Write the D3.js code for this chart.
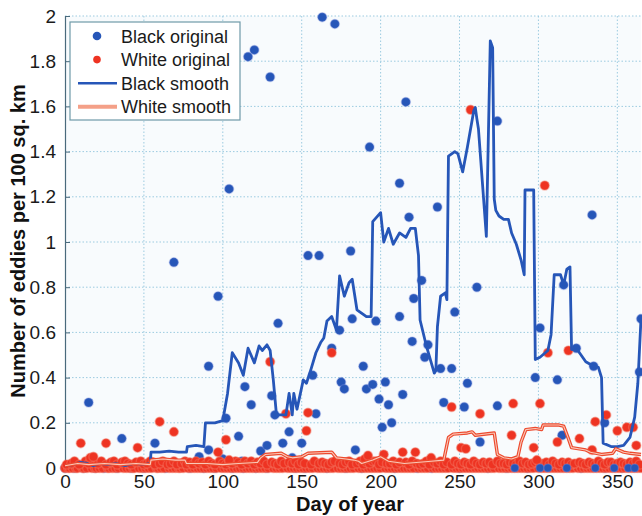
<!DOCTYPE html>
<html>
<head>
<meta charset="utf-8">
<script src="https://cdn.jsdelivr.net/npm/d3@7"></script>
<style>
  body { margin: 0; background: #fff; }
  svg { display: block; font-family: "Liberation Sans", Arial, sans-serif; }
</style>
</head>
<body>
<div id="chart"></div>
<script>
// Black original: [day, eddies per 100 sq. km]
const blackOriginal = [
  [15,0.29],[36,0.13],[57,0.11],[69,0.91],[85,0.05],[91,0.45],[91,0.08],[97,0.76],
  [100,0.04],[102,0.22],[104,1.235],[110,0.14],[112,0.03],[114,0.36],[116,1.82],[118,0.28],
  [120,1.85],[124,0.075],[128,0.10],[130,1.73],[131,0.32],[133,0.235],[135,0.64],[138,0.11],
  [142,0.16],[144,0.045],[150,0.11],[154,0.94],[157,0.41],[159,0.24],[161,0.94],[163,1.995],
  [169,0.53],[171,1.965],[174,0.61],[175,0.38],[177,0.35],[181,0.96],[182,0.66],[184,0.08],
  [189,0.45],[191,0.35],[193,1.42],[195,0.37],[197,0.65],[199,0.305],[201,0.18],[203,0.38],
  [205,0.28],[207,0.20],[212,0.67],[212,1.26],[214,0.325],[216,1.62],[218,1.11],[220,0.56],
  [221,0.75],[226,0.83],[228,0.49],[230,0.545],[236,1.155],[238,0.44],[240,0.29],[245,0.44],
  [247,0.69],[253,0.27],[255,0.375],[261,0.80],[263,0.115],[274,0.275],[274,1.535],[298,0.40],
  [301,0.62],[312,0.39],[315,0.145],[316,0.81],[324,0.53],[334,1.12],[335,0.45],[342,0.2],
  [364,0.425],[365,0.66]
];
// days with zero black eddies: hidden under the white band, except the late-year ones
const blackZeroDays = [0,6,12,19,25,33,42,50,64,79,88,95,106,113,121,128,146,152,166,178,188,
  209,223,232,250,268,280,293,327,342,353];
const blackZeroDaysTop = [285,301,306,318,336,348,357,361];

// White original
const whiteOriginal = [
  [10,0.11],[16,0.045],[18,0.05],[26,0.11],[46,0.09],[60,0.205],[69,0.16],[97,0.07],
  [102,0.125],[104,0.035],[130,0.47],[140,0.24],[153,0.165],[154,0.245],[169,0.51],[190,0.04],
  [192,0.055],[202,0.06],[214,0.07],[222,0.07],[232,0.045],[245,0.27],[251,0.09],[254,0.085],
  [257,1.585],[263,0.24],[283,0.145],[284,0.285],[297,0.09],[299,0.035],[301,0.285],[304,1.25],
  [306,0.51],[312,0.115],[319,0.52],[326,0.13],[334,0.08],[336,0.205],[343,0.235],[350,0.165],
  [356,0.18],[360,0.18],[362,0.10]
];
const whiteLow = [
  [1,0.015],[4,0.02],[6,0.03],[9,0.015],[13,0.03],[15,0.02],[18,0.025],[21,0.02],[23,0.03],
  [26,0.015],[29,0.025],[31,0.03],[33,0.015],[36,0.025],[38,0.03],[40,0.02],[42,0.015],[45,0.025],
  [48,0.03],[50,0.015],[52,0.02],[54,0.03],[56,0.025],[57,0.015],[60,0.02],[62,0.03],[65,0.015],
  [67,0.02],[69,0.03],[71,0.015],[74,0.02],[76,0.03],[77,0.015],[79,0.025],[81,0.015],[83,0.03],
  [85,0.02],[87,0.025],[89,0.015],[91,0.03],[93,0.02],[95,0.015],[98,0.03],[100,0.02],[102,0.015],
  [104,0.025],[106,0.02],[108,0.03],[110,0.025],[112,0.015],[114,0.03],[116,0.02],[118,0.03],
  [120,0.015],[122,0.025],[124,0.02],[126,0.03],[128,0.015],[131,0.025],[133,0.02],[135,0.015],
  [137,0.03],[139,0.02],[142,0.025],[144,0.02],[146,0.03],[148,0.015],[150,0.025],[152,0.02],
  [156,0.015],[158,0.03],[161,0.02],[163,0.025],[165,0.02],[167,0.015],[169,0.025],[171,0.03],
  [174,0.02],[176,0.015],[178,0.025],[180,0.03],[182,0.015],[185,0.02],[187,0.03],[189,0.015],
  [191,0.025],[193,0.02],[195,0.03],[197,0.03],[199,0.015],[201,0.025],[204,0.02],[206,0.02],
  [208,0.03],[210,0.015],[212,0.025],[216,0.025],[218,0.015],[220,0.03],[223,0.02],[225,0.015],
  [227,0.02],[229,0.03],[231,0.015],[234,0.025],[236,0.02],[238,0.03],[240,0.015],[242,0.025],
  [245,0.015],[247,0.03],[249,0.02],[251,0.015],[253,0.025],[255,0.02],[257,0.015],[259,0.03],
  [261,0.02],[263,0.015],[265,0.025],[267,0.02],[269,0.025],[271,0.015],[274,0.03],[276,0.02],
  [278,0.02],[280,0.015],[282,0.025],[284,0.02],[286,0.015],[288,0.03],[290,0.02],[292,0.025],
  [294,0.015],[296,0.02],[298,0.025],[301,0.015],[303,0.02],[305,0.025],[307,0.015],[309,0.03],
  [311,0.02],[313,0.015],[315,0.025],[317,0.02],[319,0.025],[321,0.015],[323,0.02],[326,0.025],
  [328,0.02],[330,0.015],[332,0.025],[334,0.02],[336,0.015],[338,0.03],[340,0.02],[342,0.015],
  [344,0.025],[346,0.025],[348,0.015],[350,0.02],[352,0.025],[354,0.02],[356,0.015],[358,0.025],
  [360,0.02],[362,0.03],[364,0.015]
];
const whiteZeroDays = [0,2,3,5,7,8,11,12,14,17,19,20,22,24,27,28,30,32,34,37,39,41,43,44,47,49,
  51,53,55,58,59,61,63,66,68,70,72,73,75,78,80,82,84,86,88,90,92,94,96,99,101,103,105,107,109,
  111,113,115,117,119,121,123,125,127,129,132,134,136,138,141,143,145,147,149,151,153,155,157,
  160,162,164,166,168,170,173,175,177,179,181,183,186,188,190,192,194,196,198,200,203,205,207,
  209,211,213,215,217,219,221,224,226,228,230,233,235,237,239,241,243,246,248,250,252,254,256,
  258,260,262,264,266,268,270,272,275,277,279,281,283,285,287,289,291,293,295,297,300,302,304,
  306,308,310,312,314,316,318,320,322,325,327,329,331,333,335,337,339,341,343,345,347,349,351,
  353,355,357,359,361,363,365];

// Black smooth
const blackSmooth = [
  [0,0.01],[5,0.015],[10,0.025],[14,0.02],[18,0.01],[22,0.02],[27,0.015],[32,0.02],[38,0.01],
  [44,0.02],[50,0.015],[54,0.02],[54.5,0.07],[60,0.07],[66,0.075],[72,0.07],[77,0.07],[77.5,0.095],
  [83,0.1],[88,0.095],[89,0.2],[95,0.2],[100,0.21],[103,0.33],[106,0.51],[110,0.465],[113,0.41],
  [116,0.53],[120,0.465],[123,0.54],[125,0.52],[128,0.545],[130,0.52],[132,0.39],[134,0.235],
  [140,0.235],[142,0.33],[144,0.235],[145,0.33],[147,0.26],[151,0.39],[153,0.375],[156,0.44],
  [159,0.51],[162,0.555],[164,0.575],[166,0.65],[169,0.67],[172,0.61],[174,0.85],[177,0.76],
  [180,0.82],[182,0.835],[185,0.70],[187,0.69],[191,0.67],[194,0.67],[195,1.09],[200,1.13],
  [202,1.0],[205,1.06],[208,0.99],[212,1.04],[216,1.02],[219,1.06],[222,1.06],[224,0.94],
  [225,0.655],[229,0.54],[234,0.42],[235,0.43],[236,0.625],[238,0.76],[241,0.775],[242,0.745],
  [243,1.38],[247,1.40],[249,1.39],[252,1.31],[255,1.42],[259,1.58],[260,1.595],[261,1.545],
  [262,1.50],[267,1.025],[269.5,1.89],[271,1.86],[272,1.19],[273,1.14],[275,1.115],[278,1.10],
  [281,1.10],[283,1.04],[286,0.99],[289,0.92],[291,0.855],[291.5,1.23],[297,1.23],[298,0.48],
  [301,0.49],[306,0.52],[308,0.59],[310,0.855],[314,0.855],[316,0.81],[318,0.88],[320,0.89],
  [321,0.525],[325,0.52],[330,0.47],[335,0.45],[338,0.445],[340,0.40],[341,0.11],[346,0.095],
  [350,0.095],[354,0.1],[358,0.135],[361,0.225],[363,0.375],[365,0.66]
];

// White smooth
const whiteSmooth = [
  [0,0.01],[8,0.02],[15,0.015],[25,0.02],[35,0.015],[45,0.02],[54,0.015],[54.5,0.035],[62,0.04],
  [70,0.035],[76,0.035],[77,0.02],[90,0.02],[100,0.015],[110,0.02],[122,0.025],[124,0.045],
  [127,0.06],[137,0.065],[141,0.05],[144,0.045],[150,0.05],[154,0.065],[169,0.07],[172,0.045],
  [178,0.04],[183,0.035],[186,0.03],[188,0.02],[195,0.035],[200,0.05],[205,0.03],[215,0.02],
  [232,0.03],[240,0.035],[243,0.135],[246,0.15],[255,0.155],[258,0.16],[260,0.145],[272,0.155],
  [274,0.06],[278,0.045],[283,0.04],[287,0.05],[289,0.115],[292,0.17],[298,0.175],[302,0.17],
  [303,0.19],[313,0.19],[316,0.185],[319,0.13],[321,0.09],[330,0.08],[333,0.07],[340,0.06],
  [347,0.065],[349,0.085],[354,0.07],[358,0.065],[365,0.06]
];

const xTicks = [0, 50, 100, 150, 200, 250, 300, 350];
const yTicks = [0, 0.2, 0.4, 0.6, 0.8, 1, 1.2, 1.4, 1.6, 1.8, 2];
const legendItems = ["Black original", "White original", "Black smooth", "White smooth"];

const W = 642, H = 516;
const m = { left: 65, right: 641, top: 16, bottom: 468 };
const blue = "#2656b8", red = "#ee3322";

const x = d3.scaleLinear().domain([0, 365]).range([m.left, m.right]);
const y = d3.scaleLinear().domain([0, 2]).range([m.bottom, m.top]);

const svg = d3.select("#chart").append("svg")
  .attr("width", W).attr("height", H);

svg.append("defs").append("clipPath").attr("id", "plot")
  .append("rect").attr("x", m.left - 6).attr("y", m.top - 6)
  .attr("width", m.right - m.left + 12).attr("height", m.bottom - m.top + 12);

svg.append("rect").attr("x", m.left).attr("y", m.top)
  .attr("width", m.right - m.left).attr("height", m.bottom - m.top).attr("fill", "#f8fbfd");

// grid
svg.append("g").selectAll("line").data(xTicks.slice(1)).join("line")
  .attr("x1", d => x(d)).attr("x2", d => x(d)).attr("y1", m.top).attr("y2", m.bottom)
  .attr("stroke", "#9ccbe0").attr("stroke-width", 1).attr("stroke-dasharray", "1.5,2");
svg.append("g").selectAll("line").data(yTicks.slice(1)).join("line")
  .attr("x1", m.left).attr("x2", m.right).attr("y1", d => y(d)).attr("y2", d => y(d))
  .attr("stroke", "#9ccbe0").attr("stroke-width", 1).attr("stroke-dasharray", "1.5,2");

// axes
const yAxis = svg.append("g").attr("transform", `translate(${m.left},0)`)
  .call(d3.axisLeft(y).tickValues(yTicks).tickFormat(d3.format("~g")).tickSize(-5).tickPadding(9));
const xAxis = svg.append("g").attr("transform", `translate(0,${m.bottom})`)
  .call(d3.axisBottom(x).tickValues(xTicks).tickSize(-5).tickPadding(6));
[xAxis, yAxis].forEach(a => {
  a.select(".domain").attr("stroke", "#4a6a7c").attr("stroke-width", 1.2);
  a.selectAll(".tick line").attr("stroke", "#4a6a7c");
  a.selectAll("text").attr("fill", "#1a1a1a").style("font-size", "19px");
});
xAxis.selectAll("text").attr("dy", "0.75em");

const plot = svg.append("g").attr("clip-path", "url(#plot)");

function dots(data, color, r, halo) {
  plot.append("g").selectAll("circle").data(data).join("circle")
    .attr("cx", d => x(d[0])).attr("cy", d => y(d[1])).attr("r", r)
    .attr("fill", color)
    .attr("stroke", halo).attr("stroke-width", 1.5);
}

// black first, white drawn over it (zero band mostly red)
dots(blackZeroDays.map(d => [d, 0]).concat(blackOriginal), blue, 4.5, "rgba(120,140,220,0.35)");
const whiteAll = whiteZeroDays.map(d => [d, 0]).concat(whiteLow, whiteOriginal);
dots(whiteAll, red, 4.5, "rgba(245,120,100,0.45)");
dots(blackZeroDaysTop.map(d => [d, 0]), blue, 4, "rgba(120,140,220,0.35)");

const line = d3.line().x(d => x(d[0])).y(d => y(d[1]));
plot.append("path").datum(blackSmooth).attr("d", line)
  .attr("fill", "none").attr("stroke", blue).attr("stroke-width", 2.8).attr("stroke-linejoin", "round");
plot.append("path").datum(whiteSmooth).attr("d", line)
  .attr("fill", "none").attr("stroke", "#ec4a2e").attr("stroke-width", 3.4).attr("stroke-linejoin", "round");
plot.append("path").datum(whiteSmooth).attr("d", line)
  .attr("fill", "none").attr("stroke", "#fbc7b8").attr("stroke-width", 1.1).attr("stroke-linejoin", "round");

// labels
svg.append("text").attr("x", 350).attr("y", 511).attr("text-anchor", "middle")
  .style("font-size", "20px").style("font-weight", "700").attr("fill", "#111").text("Day of year");
svg.append("text").attr("transform", "translate(25,241) rotate(-90)").attr("text-anchor", "middle")
  .style("font-size", "20px").style("font-weight", "700").attr("fill", "#111")
  .text("Number of eddies per 100 sq. km");

// legend
const lg = svg.append("g");
lg.append("rect").attr("x", 70).attr("y", 22).attr("width", 170).attr("height", 98)
  .attr("fill", "#fff").attr("stroke", "#6f9aa8").attr("stroke-width", 1.2);
legendItems.forEach((name, i) => {
  const cy = 36 + i * 23.6;
  if (i === 0) lg.append("circle").attr("cx", 97).attr("cy", cy).attr("r", 4.3).attr("fill", blue);
  if (i === 1) lg.append("circle").attr("cx", 97).attr("cy", cy).attr("r", 3.8).attr("fill", red);
  if (i === 2) lg.append("line").attr("x1", 78).attr("x2", 117).attr("y1", cy).attr("y2", cy)
    .attr("stroke", blue).attr("stroke-width", 2.6);
  if (i === 3) lg.append("line").attr("x1", 78).attr("x2", 117).attr("y1", cy).attr("y2", cy)
    .attr("stroke", "#f4a088").attr("stroke-width", 4);
  lg.append("text").attr("x", 121).attr("y", cy + 6.5)
    .style("font-size", "18px").attr("fill", "#1a1a1a").text(name);
});
</script>
</body>
</html>
